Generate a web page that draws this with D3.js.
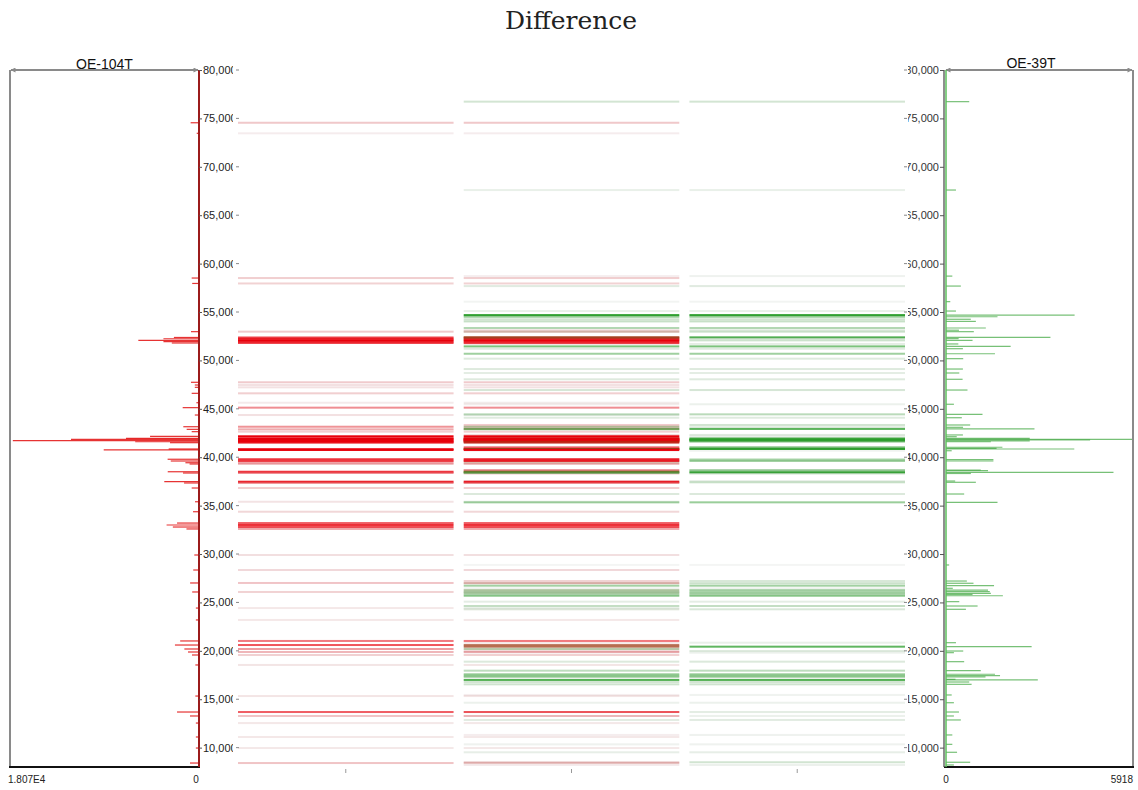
<!DOCTYPE html>
<html>
<head>
<meta charset="utf-8">
<script src="https://cdn.jsdelivr.net/npm/d3@7"></script>
<style>
  body { margin: 0; background: #fff; }
  svg { display: block; }
</style>
</head>
<body>
<svg id="chart" width="1138" height="790"></svg>
<script>
// ---- data ---------------------------------------------------------------
const chartTitle = "Difference";
const sampleNames = ["OE-104T", "OE-39T"];
const laneKeys = ["A", "AB", "B"];
const mwDomain = [8000, 80000];
const mwTicks = [10000, 15000, 20000, 25000, 30000, 35000, 40000, 45000,
                 50000, 55000, 60000, 65000, 70000, 75000, 80000];
const intensityMaxA = 18070;   // OE-104T full scale
const intensityMaxB = 5918;    // OE-39T full scale

// OE-104T peaks: molecular weight and signal
const peaksA_mw = [74550, 73460, 58510, 57950, 52970, 52370, 52240, 52080, 51950, 51800,
  47740, 47460, 47220, 46600, 45630, 45120, 44360, 43150, 42880, 42640,
  42160, 41950, 41850, 41710, 41600, 41500, 40850, 40750, 39790, 39610,
  39430, 39300, 38500, 38370, 37470, 37340, 36820, 35400, 34370, 33200,
  33000, 32790, 32590, 29900, 28350, 27010, 26080, 24420, 23190, 21020,
  20600, 20190, 19880, 19570, 18540, 15330, 13680, 13270, 12540, 11100,
  9960, 8410];
const peaksA_val = [800, 220, 700, 650, 765, 2400, 3400, 5800, 3400, 2600,
  765, 400, 400, 700, 250, 1560, 400, 1500, 1180, 700,
  4680, 6980, 12240, 17800, 6100, 2770, 2900, 9110, 3000, 2700,
  1300, 900, 2990, 1530, 3320, 1430, 700, 380, 570, 2100,
  3100, 2500, 1200, 450, 550, 850, 650, 300, 300, 1800,
  2300, 1400, 1050, 670, 350, 350, 2100, 860, 300, 300,
  300, 860];

// OE-39T peaks: molecular weight and signal
const peaksB_mw = [76730, 67600, 58710, 57680, 56070, 55100, 54680, 54510, 54250, 54030,
  53350, 53120, 52970, 52380, 52250, 52070, 51700, 51450, 51210, 50690,
  50180, 49110, 48700, 48050, 46940, 45470, 44430, 44080, 43330, 43090,
  42920, 42300, 42120, 41940, 41850, 41780, 41680, 41600, 41030, 40920,
  40850, 40670, 39760, 39610, 38680, 38610, 38440, 38320, 37540, 37410,
  36200, 35340, 28870, 27210, 26980, 26730, 26460, 26280, 26110, 25940,
  25820, 25690, 25080, 24630, 24290, 20840, 20430, 19980, 19810, 18880,
  17950, 17580, 17430, 17300, 17060, 16990, 16780, 16540, 15440, 14640,
  13680, 13270, 12860, 11310, 10340, 9520, 8490, 8210];
const peaksB_val = [735, 315, 200, 470, 135, 315, 4070, 1630, 785, 945,
  1260, 410, 880, 3305, 400, 840, 390, 2046, 535, 1550,
  545, 535, 420, 525, 680, 250, 1155, 500, 765, 540,
  2800, 535, 340, 2650, 5918, 4560, 2650, 1420, 1785, 1600,
  4060, 180, 1500, 1500, 1100, 1330, 5300, 787, 290, 945,
  575, 1630, 100, 660, 870, 1520, 215, 1330, 1385, 1420,
  840, 1800, 420, 1000, 630, 315, 2710, 545, 250, 575,
  1100, 1550, 1710, 1250, 300, 2905, 735, 810, 180, 250,
  410, 250, 470, 200, 200, 350, 765, 250];

// ---- layout ---------------------------------------------------------------
const plotTop = 70, plotBottom = 767;
const leftPanel = { x0: 10, x1: 199 };
const rightPanel = { x0: 945, x1: 1133 };
const gelRange = [238, 905];

const RED = "#e8000b", GREEN = "#2a9d2a", NEUTRAL = "#c4c4c4";
const LABEL_FONT = "Liberation Sans, Arial, sans-serif";

const svg = d3.select("#chart");
const y = d3.scaleLinear().domain(mwDomain).range([plotBottom, plotTop]);
const xA = d3.scaleLinear().domain([0, intensityMaxA]).range([leftPanel.x1, leftPanel.x0]);
const xB = d3.scaleLinear().domain([0, intensityMaxB]).range([rightPanel.x0 + 1, rightPanel.x1]);
const lane = d3.scaleBand().domain(laneKeys).range(gelRange).paddingInner(0.045);

const peaksA = peaksA_mw.map((mw, i) => ({ mw, v: peaksA_val[i] }));
const peaksB = peaksB_mw.map((mw, i) => ({ mw, v: peaksB_val[i] }));

// ---- title ----------------------------------------------------------------
svg.append("text")
  .attr("x", 571).attr("y", 29)
  .attr("text-anchor", "middle")
  .attr("font-family", "DejaVu Serif, serif")
  .attr("font-size", 25)
  .attr("fill", "#222")
  .text(chartTitle);

// arrow heads for the panel scale bars
const defs = svg.append("defs");
defs.append("marker")
  .attr("id", "arrow")
  .attr("viewBox", "0 0 10 10")
  .attr("refX", 9).attr("refY", 5)
  .attr("markerWidth", 7).attr("markerHeight", 5)
  .attr("markerUnits", "userSpaceOnUse")
  .attr("orient", "auto-start-reverse")
  .append("path").attr("d", "M0,0 L10,5 L0,10 z").attr("fill", "#8a8a8a");

defs.append("clipPath").attr("id", "clipLeftLabels")
  .append("rect").attr("x", 200).attr("y", 0).attr("width", 33).attr("height", 790);
defs.append("clipPath").attr("id", "clipRightLabels")
  .append("rect").attr("x", 908).attr("y", 0).attr("width", 33).attr("height", 790);

// ---- gel lanes ------------------------------------------------------------
const strength = v => Math.min(1, Math.pow(v / 6000, 0.75));
const bandFill = (base, v) => d3.interpolateRgb(NEUTRAL, base)(Math.min(1, strength(v) * 2.2));
const bandOpacity = v => 0.1 + 0.9 * Math.min(1, strength(v) * 1.3);

function partnerSignal(p, others) {
  const near = others.filter(o => Math.abs(o.mw - p.mw) <= 250);
  return near.length ? d3.max(near, o => o.v) : 0;
}
// colour of a band in the comparison lane: red where OE-104T dominates, green where OE-39T does
function diffColor(own, other, ownIsA) {
  const a = ownIsA ? own : other, b = ownIsA ? other : own;
  const r = (a * 1.35 + 50) / (b + 50);
  const t = Math.max(0, Math.min(1, 0.5 + 0.6 * Math.log2(r)));
  return d3.interpolateRgb(GREEN, RED)(t);
}

const gel = svg.append("g").attr("class", "gel");
function drawBands(key, peaks, colorOf) {
  gel.append("g").selectAll("rect")
    .data(peaks)
    .join("rect")
    .attr("x", lane(key))
    .attr("width", lane.bandwidth())
    .attr("y", d => y(d.mw) - 1)
    .attr("height", 2)
    .attr("fill", d => bandFill(colorOf(d), d.v))
    .attr("fill-opacity", d => bandOpacity(d.v));
}
drawBands("A", peaksA, () => RED);
drawBands("B", peaksB, () => GREEN);
drawBands("AB", peaksB, d => diffColor(d.v, partnerSignal(d, peaksA), false));
drawBands("AB", peaksA, d => diffColor(d.v, partnerSignal(d, peaksB), true));

// lane centre ticks
gel.append("g").selectAll("line")
  .data(laneKeys)
  .join("line")
  .attr("x1", k => lane(k) + lane.bandwidth() / 2)
  .attr("x2", k => lane(k) + lane.bandwidth() / 2)
  .attr("y1", plotBottom + 2).attr("y2", plotBottom + 6)
  .attr("stroke", "#999").attr("stroke-width", 1);

// gel side ticks
[gelRange[0] - 2, gelRange[1] - 1].forEach(x0 => {
  gel.append("g").selectAll("line")
    .data(mwTicks)
    .join("line")
    .attr("x1", x0).attr("x2", x0 + 3)
    .attr("y1", d => y(d)).attr("y2", d => y(d))
    .attr("stroke", "#888").attr("stroke-width", 1);
});

// ---- left panel: OE-104T ---------------------------------------------------
const left = svg.append("g").attr("class", "left-panel");
left.append("g").selectAll("line")
  .data(peaksA)
  .join("line")
  .attr("x1", xA(0)).attr("x2", d => xA(d.v))
  .attr("y1", d => y(d.mw)).attr("y2", d => y(d.mw))
  .attr("stroke", "#e00000").attr("stroke-width", 1.2).attr("stroke-opacity", 0.8);

left.append("line")
  .attr("x1", leftPanel.x0).attr("x2", leftPanel.x0)
  .attr("y1", plotTop).attr("y2", plotBottom)
  .attr("stroke", "#8a8a8a").attr("stroke-width", 2);
left.append("line")
  .attr("x1", leftPanel.x0 + 1).attr("x2", leftPanel.x1 - 1)
  .attr("y1", plotTop).attr("y2", plotTop)
  .attr("stroke", "#8a8a8a").attr("stroke-width", 2)
  .attr("marker-start", "url(#arrow)").attr("marker-end", "url(#arrow)");
left.append("line")
  .attr("x1", leftPanel.x0 - 1).attr("x2", leftPanel.x1 + 1)
  .attr("y1", plotBottom).attr("y2", plotBottom)
  .attr("stroke", "#111").attr("stroke-width", 2);
left.append("line")
  .attr("x1", leftPanel.x1).attr("x2", leftPanel.x1)
  .attr("y1", plotTop).attr("y2", plotBottom)
  .attr("stroke", "#9b1b1b").attr("stroke-width", 2);

const leftAxis = d3.axisRight(y).tickValues(mwTicks).tickSize(3).tickPadding(1)
  .tickFormat(d3.format(","));
const la = left.append("g").attr("transform", `translate(${leftPanel.x1},0)`).call(leftAxis);
la.select(".domain").remove();
la.selectAll(".tick line").attr("stroke", "#555");
// move the tick labels into a group clipped in page coordinates
const laLabels = left.append("g").attr("clip-path", "url(#clipLeftLabels)");
la.selectAll(".tick text").each(function () {
  const t = d3.select(this);
  const tr = d3.select(this.parentNode).attr("transform");
  laLabels.append("text")
    .attr("transform", `translate(${leftPanel.x1},0) ${tr}`)
    .attr("x", 4).attr("dy", "0.32em")
    .attr("font-family", LABEL_FONT)
    .attr("font-size", 11).attr("fill", "#222")
    .text(t.text());
  t.remove();
});

left.append("text")
  .attr("x", (leftPanel.x0 + leftPanel.x1) / 2).attr("y", 69)
  .attr("text-anchor", "middle")
  .attr("font-family", LABEL_FONT)
  .attr("font-size", 14).attr("fill", "#111")
  .text(sampleNames[0]);
const fmtMax = v => v.toExponential(3).replace("e+", "E");
left.append("text")
  .attr("x", 8).attr("y", 783)
  .attr("font-family", LABEL_FONT)
  .attr("font-size", 10).attr("fill", "#222")
  .text(fmtMax(intensityMaxA));
left.append("text")
  .attr("x", xA(0) - 3).attr("y", 783)
  .attr("text-anchor", "middle")
  .attr("font-family", LABEL_FONT)
  .attr("font-size", 10).attr("fill", "#222")
  .text("0");

// ---- right panel: OE-39T ---------------------------------------------------
const right = svg.append("g").attr("class", "right-panel");
right.append("g").selectAll("line")
  .data(peaksB)
  .join("line")
  .attr("x1", xB(0)).attr("x2", d => xB(d.v))
  .attr("y1", d => y(d.mw)).attr("y2", d => y(d.mw))
  .attr("stroke", "#2e9e2e").attr("stroke-width", 1.2).attr("stroke-opacity", 0.65);

right.append("line")
  .attr("x1", rightPanel.x1).attr("x2", rightPanel.x1)
  .attr("y1", plotTop).attr("y2", plotBottom)
  .attr("stroke", "#8a8a8a").attr("stroke-width", 2);
right.append("line")
  .attr("x1", rightPanel.x0 + 1).attr("x2", rightPanel.x1 - 1)
  .attr("y1", plotTop).attr("y2", plotTop)
  .attr("stroke", "#8a8a8a").attr("stroke-width", 2)
  .attr("marker-start", "url(#arrow)").attr("marker-end", "url(#arrow)");
right.append("line")
  .attr("x1", rightPanel.x0 - 1).attr("x2", rightPanel.x1 + 1)
  .attr("y1", plotBottom).attr("y2", plotBottom)
  .attr("stroke", "#111").attr("stroke-width", 2);
right.append("line")
  .attr("x1", rightPanel.x0 - 1).attr("x2", rightPanel.x0 - 1)
  .attr("y1", plotTop).attr("y2", plotBottom)
  .attr("stroke", "#6a6a6a").attr("stroke-width", 1.5);
right.append("line")
  .attr("x1", rightPanel.x0 + 1).attr("x2", rightPanel.x0 + 1)
  .attr("y1", plotTop).attr("y2", plotBottom)
  .attr("stroke", "#5cbf5c").attr("stroke-width", 1.5);

const rightAxis = d3.axisLeft(y).tickValues(mwTicks).tickSize(4).tickPadding(1)
  .tickFormat(d3.format(","));
const ra = right.append("g").attr("transform", `translate(${rightPanel.x0 - 1},0)`).call(rightAxis);
ra.select(".domain").remove();
ra.selectAll(".tick line").attr("stroke", "#555");
const raLabels = right.append("g").attr("clip-path", "url(#clipRightLabels)");
ra.selectAll(".tick text").each(function () {
  const t = d3.select(this);
  const tr = d3.select(this.parentNode).attr("transform");
  raLabels.append("text")
    .attr("transform", `translate(${rightPanel.x0 - 1},0) ${tr}`)
    .attr("x", -5).attr("dy", "0.32em")
    .attr("text-anchor", "end")
    .attr("font-family", LABEL_FONT)
    .attr("font-size", 11).attr("fill", "#333")
    .text(t.text());
  t.remove();
});

right.append("text")
  .attr("x", 1031).attr("y", 68)
  .attr("text-anchor", "middle")
  .attr("font-family", LABEL_FONT)
  .attr("font-size", 14).attr("fill", "#111")
  .text(sampleNames[1]);
right.append("text")
  .attr("x", xB(0)).attr("y", 783)
  .attr("text-anchor", "middle")
  .attr("font-family", LABEL_FONT)
  .attr("font-size", 10).attr("fill", "#222")
  .text("0");
right.append("text")
  .attr("x", rightPanel.x1).attr("y", 783)
  .attr("text-anchor", "end")
  .attr("font-family", LABEL_FONT)
  .attr("font-size", 10).attr("fill", "#222")
  .text(intensityMaxB);
</script>
</body>
</html>
